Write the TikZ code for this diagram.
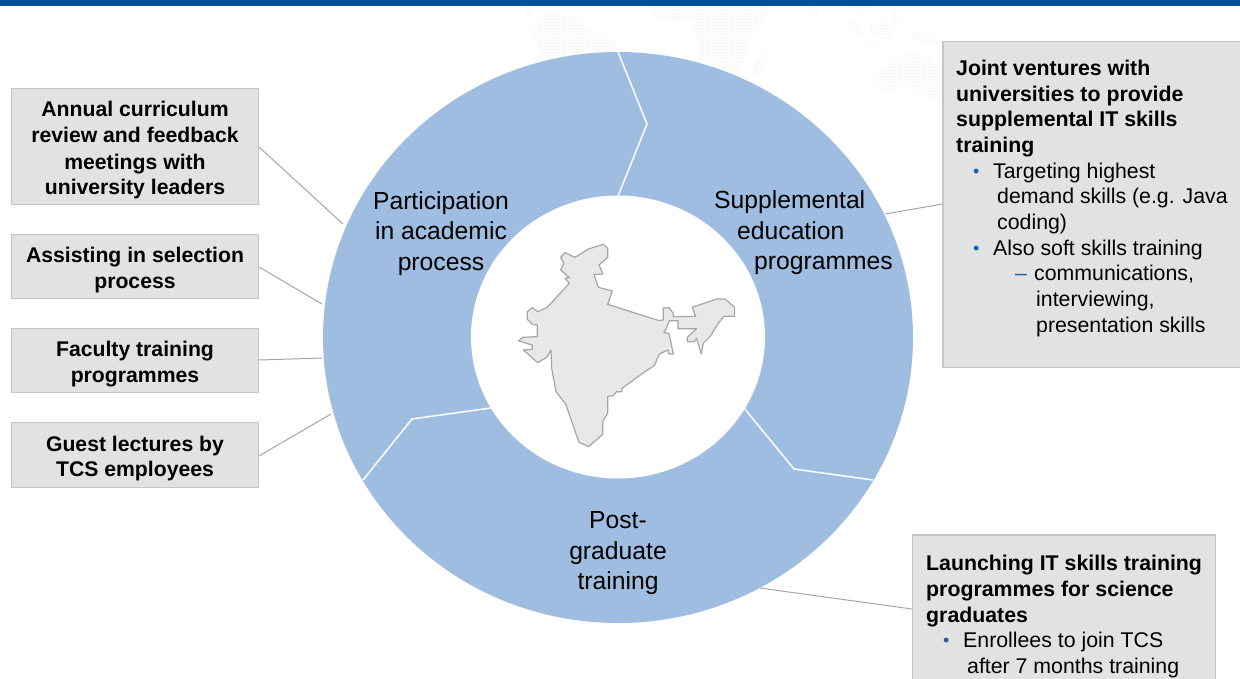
\documentclass[tikz,border=0pt]{standalone}
\usepackage{fontspec}
\setmainfont{Liberation Sans}
\usetikzlibrary{shapes.geometric,patterns}
\definecolor{topbar}{HTML}{004F9B}
\definecolor{ringblue}{HTML}{9FBDE1}
\definecolor{boxfill}{HTML}{E2E2E2}
\definecolor{boxline}{HTML}{C6C6C6}
\definecolor{linkgray}{HTML}{A6A6A6}
\definecolor{bullet}{HTML}{1F5FA8}
\definecolor{indiafill}{HTML}{E8E8E8}
\newcommand{\boxfont}{\fontsize{21.2}{25.5}\selectfont}
\newcommand{\ringfont}{\fontsize{24.7}{30.5}\selectfont}
\newcommand{\topfix}{\rule{0pt}{22.5pt}}
\newcommand{\bul}[2]{\makebox[#1][l]{\hspace{#2}\textcolor{bullet}{\fontsize{18}{18}\selectfont\raisebox{1pt}{•}}}}
\newcommand{\das}[2]{\makebox[#1][l]{\hspace{#2}\textcolor{bullet}{–}}}
\tikzset{
  x=1pt,y=-1pt,
  infobox/.style={draw=boxline,line width=1.2pt,fill=boxfill,inner sep=0pt,font=\boxfont\bfseries,align=center,text=black},
  listtext/.style={inner sep=0pt,anchor=north west,align=left,font=\fontsize{21.3}{25.7}\selectfont,text=black},
  ringlabel/.style={inner sep=0pt,align=center,font=\ringfont,text=black},
  link/.style={draw=linkgray,line width=1pt},
  divider/.style={draw=white,line width=1.5pt,line join=miter},
  worldmap/.style={pattern=crosshatch dots,pattern color=black!8,draw=none},
}
\begin{document}
\begin{tikzpicture}
\useasboundingbox (0,0) rectangle (1240,678);
\clip (0,0) rectangle (1240,678);
\fill[white] (0,0) rectangle (1240,678);
% faint world map
\begin{scope}[shift={(520,0)},x=0.3333pt,y=-0.3333pt]
  \fill[worldmap] (40,100)--(60,55)--(95,30)--(130,50)--(180,60)--(210,90)--(260,105)--(285,130)--(280,155)--(200,162)--(130,178)--(75,170)--(50,140)--cycle;
  \fill[worldmap] (12,25)--(25,20)--(35,40)--(25,48)--cycle;
\end{scope}
\begin{scope}[shift={(640,0)},x=0.3333pt,y=-0.3333pt]
  \fill[worldmap] (30,20)--(385,20)--(375,60)--(345,90)--(320,125)--(325,150)--(295,215)--(240,205)--(180,180)--(175,120)--(160,90)--(165,65)--(75,65)--(40,50)--cycle;
  \fill[worldmap] (375,155)--(380,175)--(360,225)--(340,225)--(340,190)--cycle;
\end{scope}
\begin{scope}[shift={(800,0)},x=0.3333pt,y=-0.3333pt]
  \fill[worldmap] (235,215)--(300,170)--(330,150)--(355,155)--(365,185)--(385,160)--(400,185)--(430,195)--(430,300)--(390,305)--(350,265)--(290,265)--(245,285)--(235,250)--cycle;
  \fill[worldmap] (140,65)--(160,55)--(195,105)--(175,113)--cycle;
  \fill[worldmap] (205,90)--(250,60)--(285,100)--(270,120)--(225,110)--cycle;
  \fill[worldmap] (330,95)--(380,100)--(420,135)--(380,130)--(345,120)--cycle;
  \fill[worldmap] (280,25)--(300,55)--(290,65)--(275,40)--cycle;
  \fill[worldmap] (150,20)--(210,20)--(185,45)--cycle;
  \fill[worldmap] (25,20)--(60,40)--(55,55)--(40,40)--cycle;
  \fill[worldmap] (200,125)--(240,125)--(235,135)--(205,132)--cycle;
  \fill[worldmap] (395,325)--(420,320)--(405,345)--cycle;
\end{scope}
% top bar
\fill[topbar] (0,0) rectangle (1240,6);
% ring
\node[ellipse,fill=ringblue,draw=none,inner sep=0pt,minimum width=590pt,minimum height=571pt] (ring) at (618,337.5) {};
\node[ellipse,fill=white,draw=none,inner sep=0pt,minimum width=294pt,minimum height=283pt] (hole) at (618,337) {};
% dividers
\coordinate (d1a) at (618,52); \coordinate (d1b) at (647,124); \coordinate (d1c) at (618,196);
\coordinate (d2a) at (363,480); \coordinate (d2b) at (412,419); \coordinate (d2c) at (491,408);
\coordinate (d3a) at (744,408); \coordinate (d3b) at (794,469); \coordinate (d3c) at (873,480);
\draw[divider] (d1a)--(d1b)--(d1c);
\draw[divider] (d2a)--(d2b)--(d2c);
\draw[divider] (d3a)--(d3b)--(d3c);
% India
\begin{scope}[shift={(470,200)},x=0.3333pt,y=-0.3333pt]
\draw[fill=indiafill,draw=linkgray,line width=1.2pt,line join=round]
(400,133)--(413,145)--(413,172)--(387,195)--(399,222)--(372,224)--(385,262)--(427,273)--(413,313)--(567,362)--(580,360)--(580,324)--(597,323)--(610,340)--(610,350)--(677,349)--(667,322)--(740,297)--(765,297)--(794,322)--(794,349)--(762,349)--(745,370)--(720,410)--(700,430)--(694,462)--(680,415)--(672,425)--(652,425)--(652,412)--(680,386)--(624,386)--(624,362)--(598,362)--(590,383)--(582,398)--(597,400)--(610,462)--(596,462)--(594,450)--(568,462)--(553,497)--(525,515)--(456,565)--(456,575)--(440,575)--(428,588)--(413,589)--(413,640)--(398,665)--(398,703)--(356,740)--(327,727)--(287,612)--(258,575)--(245,505)--(243,450)--(232,470)--(225,475)--(203,488)--(160,450)--(187,448)--(187,435)--(146,423)--(158,412)--(202,410)--(202,375)--(187,373)--(172,358)--(172,335)--(187,323)--(203,335)--(232,322)--(298,250)--(285,235)--(298,233)--(272,210)--(282,190)--(272,172)--(285,158)--(315,172)--(355,147)--cycle;
\end{scope}
% ring labels
\node[ringlabel] (lblpart) at (441,233.5) {Participation\\in academic\\process};
\node[ringlabel,align=left,anchor=north west] (lblsupp) at (714,190.5) {Supplemental\\\hspace{23pt}education\\\hspace{40pt}programmes};
\node[ringlabel] (lblpost) at (618,553.5) {Post-\\graduate\\training};
% left boxes
\node[infobox,minimum width=247pt,minimum height=116pt] (b1) at (135,146.5) {\topfix Annual curriculum\\review and feedback\\[1.5pt]meetings with\\university leaders};
\node[infobox,minimum width=247pt,minimum height=64pt] (b2) at (135,266.5) {\topfix Assisting in selection\\process};
\node[infobox,minimum width=247pt,minimum height=64pt] (b3) at (135,360.5) {\topfix Faculty training\\programmes};
\node[infobox,minimum width=247pt,minimum height=65pt] (b4) at (135,455) {\topfix Guest lectures by\\TCS employees};
% right boxes
\node[infobox,minimum width=320pt,minimum height=326pt] (b5) at (1103,204.5) {};
\node[infobox,minimum width=303pt,minimum height=170pt] (b6) at (1064,620) {};
\node[listtext] (t5) at (956,59.7) {\textbf{Joint ventures with}\\\textbf{universities to provide}\\\textbf{supplemental IT skills}\\\textbf{training}\\
\bul{37pt}{17pt}Targeting highest\\
\hspace{41pt}demand skills (e.g. Java\\
\hspace{41pt}coding)\\
\bul{37pt}{17pt}Also soft skills training\\
\das{78pt}{59pt}communications,\\
\hspace{80pt}interviewing,\\
\hspace{80pt}presentation skills};
\node[listtext] (t6) at (926,555) {\textbf{Launching IT skills training}\\\textbf{programmes for science}\\\textbf{graduates}\\
\bul{37pt}{17pt}Enrollees to join TCS\\
\hspace{41pt}after 7 months training};
% connectors
\coordinate (c1) at (343,224); \coordinate (c2) at (322,304); \coordinate (c3) at (322,358); \coordinate (c4) at (331,414);
\coordinate (c5) at (885,214); \coordinate (c6) at (760,588);
\coordinate (s1) at (259,147); \coordinate (s2) at (259,267); \coordinate (s3) at (259,360); \coordinate (s4) at (259,456);
\coordinate (s5) at (943,204); \coordinate (s6) at (912,609);
\draw[link] (s1)--(c1);
\draw[link] (s2)--(c2);
\draw[link] (s3)--(c3);
\draw[link] (s4)--(c4);
\draw[link] (s5)--(c5);
\draw[link] (s6)--(c6);
\end{tikzpicture}
\end{document}
